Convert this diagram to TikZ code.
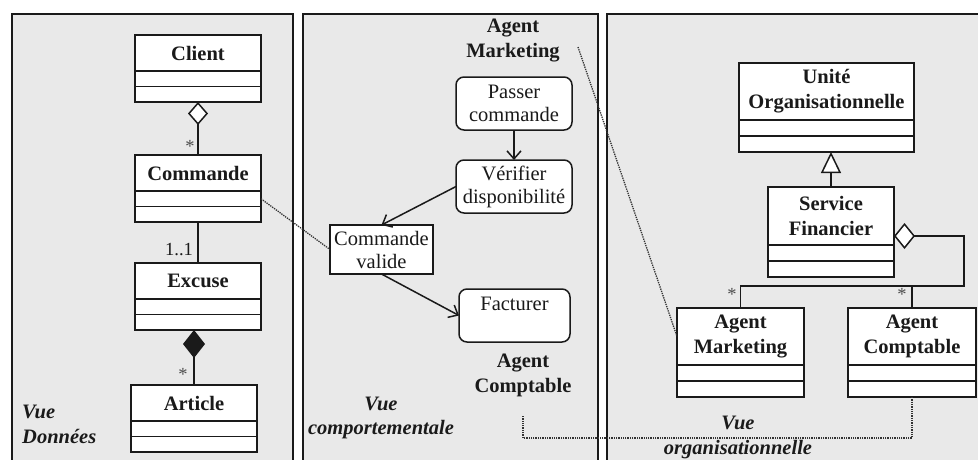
\documentclass[tikz,border=0pt]{standalone}
\usepackage{fontspec}
\setmainfont{Liberation Serif}
\usetikzlibrary{arrows.meta,calc}

% UML class: name, top-centre point, width, title height, compartment height, title text
\newcommand\umlclassbox[6]{%
  \node[ctitle, minimum width=#3, minimum height=#4, anchor=north] (#1) at #2 {#6};
  \node[ccomp, minimum width=#3, minimum height=#5, anchor=north] (#1b) at (#1.south) {};
  \node[ccomp, minimum width=#3, minimum height=#5, anchor=north] (#1c) at (#1b.south) {};
}

\definecolor{ink}{HTML}{1A1A1A}
\definecolor{panelgray}{HTML}{E9E9E9}

\begin{document}
\begin{tikzpicture}[x=1pt,y=-1pt,
  panel/.style={draw=ink, line width=1.5pt, fill=panelgray},
  ctitle/.style={draw=ink, line width=1.5pt, fill=white, outer sep=0pt, inner sep=0pt,
    align=center, text=ink, font=\fontsize{20.5}{25}\selectfont\bfseries},
  ccomp/.style={draw=ink, line width=1.5pt, fill=white, outer sep=0pt, inner sep=0pt},
  actbox/.style={draw=ink, line width=1.5pt, fill=white, rounded corners=8pt, outer sep=0pt,
    inner sep=0pt, align=center, text=ink, font=\fontsize{20.5}{23}\selectfont},
  objbox/.style={draw=ink, line width=1.5pt, fill=white, outer sep=0pt,
    inner sep=0pt, align=center, text=ink, font=\fontsize{20.5}{23}\selectfont},
  lbl/.style={align=center, inner sep=0pt, text=ink, font=\fontsize{20.5}{25}\selectfont\bfseries},
  vue/.style={align=center, inner sep=0pt, text=ink, font=\fontsize{20.5}{24.5}\selectfont\bfseries\itshape},
  mult/.style={inner sep=0pt, text=black!70, font=\fontsize{18.5}{20}\selectfont},
  assoc/.style={draw=ink, line width=1.5pt},
  flow/.style={draw=ink, line width=1.5pt, -{Straight Barb[length=8pt,width=14pt]}},
  trace/.style={draw=black!80, line width=1.3pt, densely dotted},
]
\useasboundingbox (0,0) rectangle (978,459);
\clip (0,0) rectangle (978,459);

% the three views
\path[panel] (12,14) rectangle (293,480);
\path[panel] (303,14) rectangle (598,480);
\path[panel] (607,14) rectangle (1000,480);

% ---- data view ----
\umlclassbox{client}{(198,35)}{126pt}{36pt}{15.5pt}{Client}
\umlclassbox{commande}{(198,155)}{126pt}{36pt}{15.5pt}{Commande}
\umlclassbox{excuse}{(198,263)}{126pt}{36pt}{15.5pt}{Excuse}
\umlclassbox{article}{(194,385)}{126pt}{36pt}{15.5pt}{Article}

\draw[assoc, -{Diamond[fill=white, length=23pt, width=20pt]}]
  (commande.north) -- (commande.north |- clientc.south);
\draw[assoc] (commandec.south) -- (commandec.south |- excuse.north);
\draw[assoc, -{Diamond[length=28pt, width=22pt]}]
  (article.north) -- (article.north |- excusec.south);

\node[mult] (m1) at (190,146) {*};
\node[mult, text=ink] (m2) at (179,250) {1..1};
\node[mult] (m3) at (183,374) {*};

\node[vue, align=left, anchor=west] (vdon) at (22,424.5) {Vue\\Données};

% ---- behavioural view ----
\node[lbl] (amlbl) at (513,40) {Agent\\Marketing};
\node[actbox, minimum width=116pt, minimum height=53pt] (passer) at (514,103.5) {Passer\\commande};
\node[actbox, minimum width=116pt, minimum height=53pt] (verif) at (514,186.5) {Vérifier\\disponibilité};
\node[objbox, minimum width=103pt, minimum height=49pt] (cv) at (381.5,249.5) {Commande\\valide};
\node[actbox, minimum width=111pt, minimum height=53pt] (fact) at (514.5,315.5) {Facturer\\\mbox{}};
\node[lbl] (aclbl) at (523,375) {Agent\\Comptable};

\draw[flow] (passer) -- (verif);
\draw[flow] (verif.west) -- (cv.north);
\draw[flow] (cv.south) -- (fact.west);

\node[vue] (vcomp) at (381,418) {Vue\\comportementale};

% ---- organisational view ----
\umlclassbox{unite}{(826.5,63)}{175pt}{57pt}{16pt}{Unité\\Organisationnelle}
\umlclassbox{serv}{(831,187)}{126pt}{58pt}{16pt}{Service\\Financier}
\umlclassbox{amkt}{(740.5,308)}{127pt}{57pt}{16pt}{Agent\\Marketing}
\umlclassbox{acpt}{(912,308)}{128pt}{57pt}{16pt}{Agent\\Comptable}

\draw[assoc, -{Triangle[fill=white, length=21pt, width=20pt]}]
  (serv.north) -- (serv.north |- unitec.south);

\path (serv.east) ++(0,20) coordinate (sfagg);
\draw[assoc, -{Diamond[fill=white, length=21pt, width=26pt]}]
  (amkt.north) |- (964,286) |- (sfagg);
\draw[assoc] (acpt.north) -- ++(0,-22);

\node[mult] (m4) at (732,294) {*};
\node[mult] (m5) at (902,294) {*};

\node[vue] (vorg) at (738,437.5) {Vue\\organisationnelle};

% ---- traces between the views ----
\coordinate (amtail) at (578,47);
\coordinate (actail) at (523,415);
\draw[trace] (commandeb.east) -- (cv.west);
\draw[trace] (amtail) -- (amkt.west);
\draw[trace] (acptc.south) -- ++(0,41) -| (actail);
\end{tikzpicture}
\end{document}
